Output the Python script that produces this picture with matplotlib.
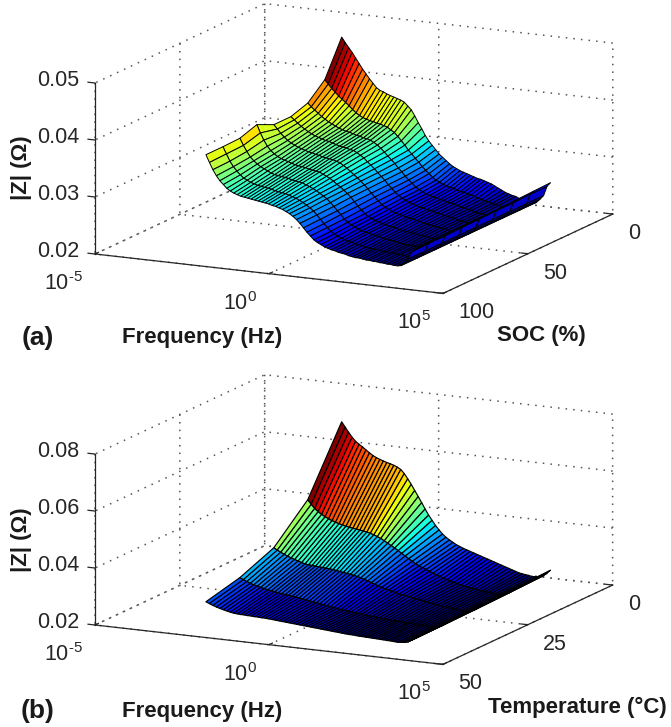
import numpy as np
import matplotlib
matplotlib.use('Agg')
import matplotlib.pyplot as plt
from matplotlib.colors import Normalize
from mpl_toolkits.mplot3d import proj3d

plt.rcParams['font.family'] = ['Liberation Sans', 'DejaVu Sans']
plt.rcParams['mathtext.fontset'] = 'custom'
plt.rcParams['mathtext.rm'] = 'Liberation Sans'
plt.rcParams['mathtext.default'] = 'regular'

# log10(frequency / Hz)
log_f = [-2.3,-2.2,-2.1,-2.0,-1.9,-1.8,-1.7,-1.6,-1.5,-1.4,-1.3,-1.2,-1.1,-1.0,-0.9,-0.8,-0.7,-0.6,-0.5,-0.4,
         -0.3,-0.2,-0.1,0.0,0.1,0.2,0.3,0.4,0.5,0.6,0.7,0.8,0.9,1.0,1.1,1.2,1.3,1.4,1.5,1.6,
         1.7,1.8,1.9,2.0,2.1,2.2,2.3,2.4,2.5,2.6,2.7,2.8,2.9,3.0,3.1,3.2,3.3,3.4,3.5,3.6,3.7]

# Panel (a): |Z| in milliohm against SOC (%)
soc = [10, 20, 30, 40, 50, 60, 70, 80, 90]
soc10 = [47.4,46.5,45.7,44.9,44.0,43.1,42.2,41.4,40.6,39.9,39.2,38.8,38.6,38.3,38.1,37.9,37.7,37.5,37.2,36.6,
         36.0,35.0,33.9,32.9,31.8,30.9,30.2,29.5,28.8,28.3,27.8,27.3,26.9,26.6,26.3,26.1,25.9,25.7,25.5,25.3,
         25.2,25.0,24.8,24.6,24.3,24.0,23.7,23.4,23.2,23.0,22.9,22.6,22.4,22.2,22.0,22.0,22.3,22.9,23.6,25.3,26.0]
soc20 = [41.3,40.6,39.9,39.3,38.7,38.2,37.7,37.2,36.6,36.1,35.7,35.4,35.2,35.0,34.9,34.7,34.6,34.4,34.2,33.8,
         33.4,32.8,32.1,31.4,30.6,30.0,29.3,28.7,28.0,27.4,26.9,26.3,25.9,25.6,25.3,25.1,24.9,24.8,24.6,24.4,
         24.3,24.1,24.0,23.8,23.6,23.4,23.2,23.1,22.9,22.8,22.7,22.5,22.4,22.3,22.1,22.1,22.3,22.9,23.6,25.3,25.9]
soc30 = [38.6,38.0,37.5,37.0,36.5,36.1,35.7,35.4,35.1,34.8,34.6,34.4,34.3,34.1,33.9,33.8,33.6,33.5,33.3,33.0,
         32.6,32.1,31.5,30.9,30.3,29.7,29.0,28.4,27.7,27.1,26.6,26.0,25.6,25.3,25.0,24.8,24.6,24.5,24.3,24.2,
         24.0,23.9,23.8,23.6,23.4,23.3,23.1,23.0,22.8,22.7,22.6,22.5,22.4,22.3,22.1,22.1,22.3,22.9,23.6,25.2,25.8]
soc40 = [37.6,37.1,36.6,36.1,35.7,35.3,35.0,34.7,34.5,34.3,34.1,34.0,33.8,33.6,33.4,33.3,33.2,33.0,32.9,32.6,
         32.2,31.8,31.2,30.7,30.1,29.5,28.9,28.3,27.6,27.0,26.4,25.9,25.5,25.2,24.9,24.7,24.5,24.3,24.2,24.0,
         23.9,23.8,23.6,23.5,23.3,23.2,23.1,23.0,22.8,22.7,22.6,22.5,22.4,22.3,22.2,22.1,22.3,22.9,23.6,25.2,25.7]
soc50 = [37.6,36.9,36.2,35.6,35.1,34.7,34.4,34.1,33.9,33.7,33.5,33.4,33.2,33.1,32.9,32.8,32.7,32.6,32.4,32.2,
         31.8,31.4,30.9,30.4,29.9,29.4,28.8,28.2,27.5,26.9,26.3,25.7,25.3,25.0,24.7,24.5,24.3,24.2,24.0,23.9,
         23.8,23.6,23.5,23.3,23.2,23.1,23.0,22.9,22.8,22.7,22.6,22.5,22.4,22.3,22.2,22.2,22.3,22.9,23.6,25.1,25.6]
soc60 = [39.0,37.6,36.4,35.4,34.7,34.2,33.8,33.5,33.3,33.1,32.9,32.7,32.6,32.5,32.4,32.2,32.1,32.0,31.9,31.6,
         31.3,31.0,30.6,30.1,29.7,29.2,28.7,28.1,27.4,26.7,26.1,25.5,25.1,24.8,24.5,24.3,24.1,24.0,23.8,23.7,
         23.6,23.4,23.3,23.2,23.1,23.0,22.9,22.8,22.7,22.6,22.5,22.5,22.4,22.3,22.2,22.2,22.3,22.9,23.6,25.1,25.6]
soc70 = [38.0,36.8,35.8,34.9,34.3,33.8,33.4,33.1,32.8,32.5,32.3,32.2,32.1,32.0,31.9,31.7,31.6,31.5,31.4,31.1,
         30.9,30.6,30.3,29.9,29.5,29.1,28.5,27.9,27.2,26.6,25.9,25.4,25.0,24.7,24.4,24.2,24.0,23.9,23.7,23.6,
         23.5,23.3,23.2,23.1,23.0,22.9,22.8,22.7,22.6,22.6,22.5,22.5,22.4,22.3,22.2,22.2,22.3,22.9,23.6,25.0,25.5]
soc80 = [37.9,36.7,35.5,34.6,33.9,33.3,32.8,32.5,32.2,32.0,31.8,31.7,31.6,31.5,31.4,31.2,31.1,31.0,30.9,30.7,
         30.5,30.3,30.0,29.7,29.3,28.9,28.4,27.8,27.1,26.4,25.8,25.2,24.8,24.5,24.2,24.0,23.8,23.7,23.5,23.4,
         23.3,23.1,23.0,22.9,22.9,22.8,22.7,22.7,22.6,22.6,22.5,22.5,22.4,22.3,22.3,22.2,22.3,22.9,23.6,25.0,25.5]
soc90 = [37.9,36.6,35.4,34.4,33.6,33.0,32.4,32.0,31.7,31.5,31.3,31.2,31.1,31.0,30.9,30.8,30.7,30.6,30.5,30.3,
         30.2,30.0,29.8,29.5,29.2,28.8,28.3,27.7,27.0,26.3,25.7,25.1,24.7,24.4,24.1,23.9,23.7,23.6,23.4,23.3,
         23.2,23.0,22.9,22.8,22.8,22.7,22.6,22.6,22.5,22.5,22.4,22.4,22.3,22.3,22.2,22.2,22.3,22.9,23.6,24.9,25.4]

# Panel (b): |Z| in milliohm against temperature (deg C)
temp = [5, 15, 25, 35, 45]
t05 = [70.0,68.3,66.6,65.0,63.7,62.8,62.0,61.1,60.2,59.4,58.8,58.3,57.9,57.5,57.2,56.8,56.3,55.6,54.3,52.6,
       50.8,48.8,46.8,44.8,42.7,40.7,39.0,37.3,35.9,34.6,33.6,32.8,32.1,31.4,30.9,30.4,30.0,29.6,29.2,28.8,
       28.4,28.0,27.6,27.2,26.8,26.4,26.0,25.6,25.2,24.8,24.4,24.0,23.8,23.6,23.4,23.3,23.3,23.6,24.0,25.0,26.2]
t15 = [48.2,46.7,45.4,44.4,43.6,42.9,42.3,41.8,41.4,41.0,40.7,40.4,40.2,40.0,39.8,39.6,39.4,39.2,38.9,38.5,
       38.0,37.5,36.8,36.1,35.4,34.7,33.9,33.1,32.3,31.5,30.7,30.0,29.4,28.9,28.4,27.9,27.4,26.9,26.5,26.1,
       25.7,25.3,25.0,24.7,24.4,24.1,23.9,23.7,23.5,23.3,23.1,23.0,22.9,22.8,22.7,22.7,22.8,23.1,23.6,24.6,25.8]
t25 = [36.9,36.2,35.6,35.0,34.5,34.0,33.6,33.2,32.8,32.5,32.3,32.2,32.1,32.0,31.9,31.8,31.7,31.6,31.4,31.2,
       31.0,30.8,30.6,30.4,30.1,29.8,29.4,29.0,28.5,28.1,27.7,27.3,26.9,26.6,26.3,26.0,25.7,25.5,25.3,25.1,
       24.8,24.6,24.4,24.2,24.0,23.8,23.6,23.4,23.2,23.0,22.9,22.7,22.6,22.5,22.4,22.4,22.5,22.8,23.3,24.3,25.4]
t35 = [32.0,31.4,30.9,30.4,30.0,29.7,29.4,29.1,28.8,28.6,28.4,28.2,28.0,27.8,27.7,27.5,27.4,27.2,27.0,26.8,
       26.6,26.4,26.2,26.0,25.8,25.6,25.4,25.2,25.0,24.8,24.7,24.5,24.4,24.2,24.1,24.0,23.8,23.7,23.6,23.5,
       23.4,23.3,23.2,23.1,23.0,22.9,22.9,22.8,22.7,22.7,22.6,22.6,22.5,22.5,22.4,22.4,22.5,22.7,23.1,23.9,24.8]
t45 = [29.1,28.6,28.1,27.7,27.3,27.0,26.7,26.4,26.2,26.1,26.0,26.0,25.9,25.9,25.8,25.8,25.7,25.7,25.6,25.5,
       25.4,25.3,25.2,25.1,25.0,24.9,24.8,24.7,24.6,24.5,24.4,24.3,24.2,24.1,24.0,23.9,23.8,23.7,23.6,23.5,
       23.4,23.3,23.3,23.2,23.1,23.1,23.0,23.0,22.9,22.9,22.8,22.8,22.7,22.7,22.6,22.5,22.6,22.7,23.0,23.7,24.5]

W, H = 671, 727
fig = plt.figure(figsize=(W / 100, H / 100), dpi=100)
TICKCOL = '#262626'
LABEL = 15.5


def to_px(ax, x, y, z):
    xs, ys, _ = proj3d.proj_transform(x, y, z, ax.get_proj())
    d = ax.transData.transform((xs, ys))
    return np.array([d[0], H - d[1]])


def place(ax, p0, p1, p2):
    """Fit the axes square so that the box corners fall on the reference pixels."""
    (xa, xb), (ya, yb), (za, zb) = ax.get_xlim(), ax.get_ylim(), ax.get_zlim()
    size, cx, cy = 400.0, 300.0, 300.0
    for _ in range(4):
        ax.set_position([(cx - size / 2) / W, (cy - size / 2) / H, size / W, size / H])
        ax.apply_aspect()
        a = to_px(ax, xa, ya, za)
        b = to_px(ax, xb, ya, za)
        size *= np.linalg.norm(np.array(p1) - np.array(p0)) / np.linalg.norm(b - a)
        ax.set_position([(cx - size / 2) / W, (cy - size / 2) / H, size / W, size / H])
        ax.apply_aspect()
        a = to_px(ax, xa, ya, za)
        cx += p0[0] - a[0]
        cy -= p0[1] - a[1]
    ax.set_position([(cx - size / 2) / W, (cy - size / 2) / H, size / W, size / H])


def panel(rows, ys, ylim, yticks, zticks, zlabels, corners, lw):
    ax = fig.add_axes([0.1, 0.1, 0.8, 0.8], projection='3d')
    ax.set_proj_type('ortho')
    ax.view_init(elev=13.3, azim=-63.8)
    ax.set_box_aspect((387.9, 384.4, 175.7))
    ax.patch.set_visible(False)
    Z = np.array(rows) / 1000.0
    X, Y = np.meshgrid(log_f, ys)
    cols = matplotlib.colormaps['jet'](Normalize(Z.min(), Z.max())(Z))
    surf = ax.plot_surface(X, Y, Z, facecolors=cols, rstride=1, cstride=1, shade=False)
    surf.set_edgecolor('k')
    surf.set_linewidth(lw)

    ax.set_xlim(-5, 5)
    ax.set_ylim(*ylim)
    ax.set_zlim(zticks[0], zticks[-1])
    ax.set_xticks([-5, 0, 5])
    ax.set_xticklabels([r'$10^{\text{-}5}$', '$10^{0}$', '$10^{5}$'])
    ax.set_yticks(yticks)
    ax.set_yticklabels([str(v) for v in yticks])
    ax.set_zticks(zticks)
    ax.set_zticklabels(zlabels)
    for axis in (ax.xaxis, ax.yaxis, ax.zaxis):
        axis.set_pane_color((1, 1, 1, 0))
        axis.pane.set_edgecolor((1, 1, 1, 0))
        axis.line.set_color(TICKCOL)
        axis.line.set_linewidth(0.9)
        axis._axinfo['grid'].update(color='#555555', linewidth=1.1, linestyle=(0, (1, 4)))
        axis._axinfo['tick'].update(inward_factor=0.0, outward_factor=0.25, linewidth={True: 0.9, False: 0.5}, color=TICKCOL)
    ax.zaxis.set_ticks_position('upper')
    ax.tick_params(axis='both', labelsize=LABEL, colors=TICKCOL)
    ax.tick_params(axis='x', pad=7)
    ax.tick_params(axis='y', pad=1)
    ax.tick_params(axis='z', pad=7)
    for t in ax.get_xticklabels():
        t.set_ha('right')
    for t in ax.get_yticklabels():
        t.set_ha('left')
    for t in ax.get_zticklabels():
        t.set_va('baseline')
    place(ax, *corners)
    return ax


panel([soc10, soc20, soc30, soc40, soc50, soc60, soc70, soc80, soc90], soc, (100, 0), [0, 50, 100],
      [0.02, 0.03, 0.04, 0.05], ['0.02', '0.03', '0.04', '0.05'],
      ((95, 254), (443, 294), (612, 214)), 0.7)
panel([t05, t15, t25, t35, t45], temp, (50, 0), [0, 25, 50],
      [0.02, 0.04, 0.06, 0.08], ['0.02', '0.04', '0.06', '0.08'],
      ((95, 625), (443, 664), (611, 586)), 0.85)


def label(x, y, s, size=16, rot=0):
    fig.text(x / W, 1 - y / H, s, fontsize=size, fontweight='bold', ha='center', va='center',
             rotation=rot, color='#1a1a1a')


label(202, 338, 'Frequency (Hz)')
label(541, 336, 'SOC (%)')
label(22, 168, '|Z| (Ω)', rot=90)
label(38, 338, '(a)', size=19)
label(202, 711, 'Frequency (Hz)')
label(577, 707, 'Temperature (°C)')
label(22, 540, '|Z| (Ω)', rot=90)
label(38, 711, '(b)', size=19)

fig.savefig('out.png', dpi=100)
